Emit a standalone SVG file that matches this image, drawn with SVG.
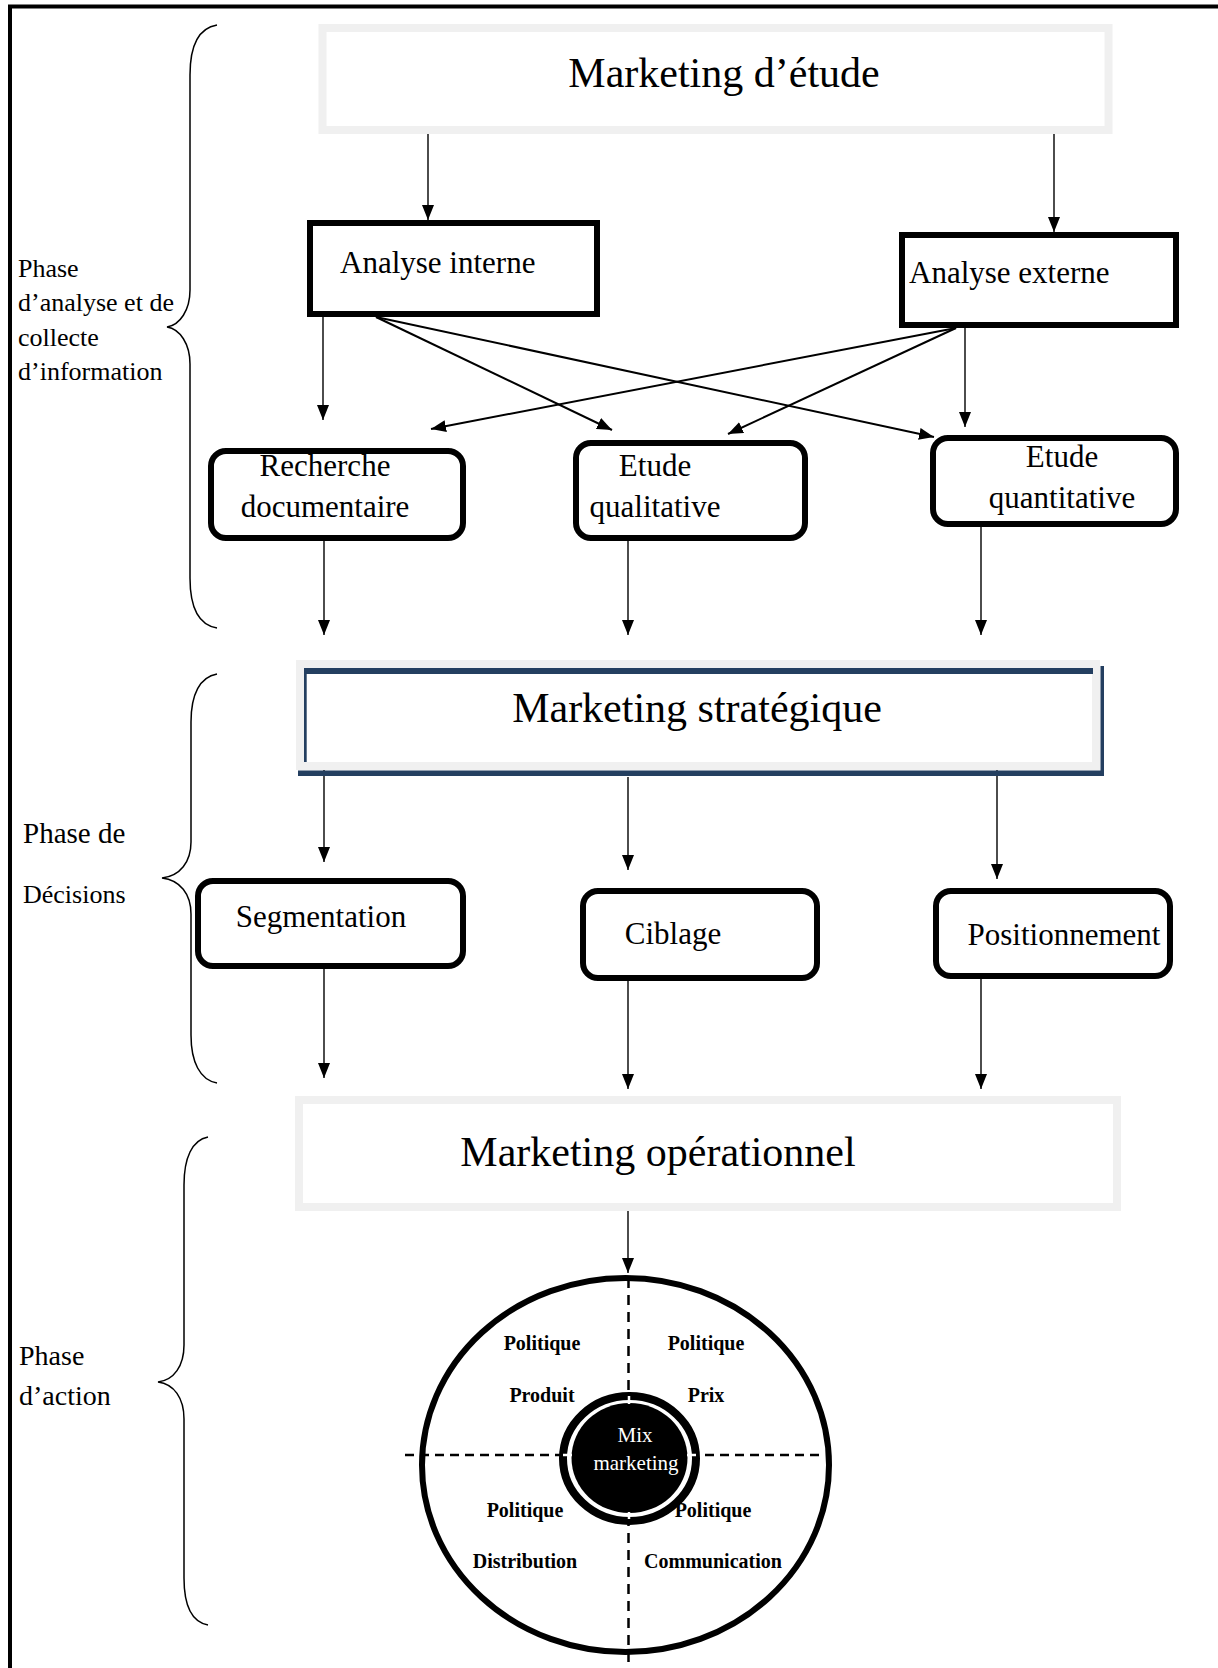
<svg xmlns="http://www.w3.org/2000/svg" width="1218" height="1668" viewBox="0 0 1218 1668">
<style>
text{font-family:"Liberation Serif","Times New Roman",serif;fill:#000}
.big{font-size:42px;text-anchor:middle}
.lbl{font-size:31px}
.mid{text-anchor:middle}
.side{font-size:26px}
.pol{font-size:20px;font-weight:bold;text-anchor:middle}
.mix{font-size:21px;fill:#fff;text-anchor:middle}
.gbox{fill:#fff;stroke:#f0f0f0;stroke-width:8}
.rbox{fill:#fff;stroke:#000;stroke-width:6}
.conn{stroke:#000;stroke-width:1.4;fill:none}
.diag{stroke:#000;stroke-width:2;fill:none}
.brace{stroke:#000;stroke-width:1.5;fill:none}
.dash{stroke:#000;stroke-width:2.5;fill:none}
</style>
<defs>
<marker id="ah" markerUnits="userSpaceOnUse" markerWidth="15" markerHeight="12" refX="15" refY="6" orient="auto">
<path d="M0,0 L15,6 L0,12 z" fill="#000"/>
</marker>
</defs>
<rect width="1218" height="1668" fill="#fff"/>
<path d="M10,1668 V6.5 H1218" fill="none" stroke="#000" stroke-width="4"/>

<g id="braces">
<path class="brace" d="M217,25 C199,28 190,45 190,75 L190,290 C190,310 180,325 167,327 C180,329 190,344 190,364 L190,578 C190,608 199,625 217,628"/>
<path class="brace" d="M217,674 C200,677 191,694 191,722 L191,842 C191,862 180,876 162,878 C180,880 191,894 191,914 L191,1035 C191,1062 200,1080 217,1083"/>
<path class="brace" d="M208,1137 C192,1140 184,1158 184,1185 L184,1345 C184,1366 174,1380 158,1382 C174,1384 184,1398 184,1419 L184,1578 C184,1605 192,1622 208,1625"/>
</g>

<g id="phase-labels">
<text class="side" x="18" y="277">Phase</text>
<text class="side" x="18" y="311">d’analyse et de</text>
<text class="side" x="18" y="346">collecte</text>
<text class="side" x="18" y="380">d’information</text>
<text x="23" y="843" style="font-size:29px">Phase de</text>
<text x="23" y="903" style="font-size:26px">Décisions</text>
<text x="19" y="1365" style="font-size:28px">Phase</text>
<text x="19" y="1405" style="font-size:28px">d’action</text>
</g>

<g id="connectors">
<line class="conn" x1="428" y1="130" x2="428" y2="220" marker-end="url(#ah)"/>
<line class="conn" x1="1054" y1="130" x2="1054" y2="232" marker-end="url(#ah)"/>
<line class="conn" x1="323" y1="317" x2="323" y2="420" marker-end="url(#ah)"/>
<line class="diag" x1="376" y1="317" x2="612" y2="430" marker-end="url(#ah)"/>
<line class="diag" x1="376" y1="317" x2="934" y2="437" marker-end="url(#ah)"/>
<line class="diag" x1="956" y1="328" x2="431" y2="429" marker-end="url(#ah)"/>
<line class="diag" x1="956" y1="328" x2="728" y2="434" marker-end="url(#ah)"/>
<line class="conn" x1="965" y1="328" x2="965" y2="427" marker-end="url(#ah)"/>
<line class="conn" x1="324" y1="541" x2="324" y2="635" marker-end="url(#ah)"/>
<line class="conn" x1="628" y1="541" x2="628" y2="635" marker-end="url(#ah)"/>
<line class="conn" x1="981" y1="527" x2="981" y2="635" marker-end="url(#ah)"/>
<line class="conn" x1="324" y1="766" x2="324" y2="862" marker-end="url(#ah)"/>
<line class="conn" x1="628" y1="777" x2="628" y2="870" marker-end="url(#ah)"/>
<line class="conn" x1="997" y1="766" x2="997" y2="879" marker-end="url(#ah)"/>
<line class="conn" x1="324" y1="969" x2="324" y2="1078" marker-end="url(#ah)"/>
<line class="conn" x1="628" y1="981" x2="628" y2="1089" marker-end="url(#ah)"/>
<line class="conn" x1="981" y1="979" x2="981" y2="1089" marker-end="url(#ah)"/>
<line class="conn" x1="628" y1="1207" x2="628" y2="1273" marker-end="url(#ah)"/>
</g>

<g id="marketing-etude">
<rect class="gbox" x="322.5" y="28" width="786" height="102"/>
<text class="big" x="724" y="87">Marketing d’étude</text>
</g>

<g id="analyse-interne">
<rect class="rbox" x="310" y="223" width="287" height="91"/>
<text class="lbl" x="340" y="273">Analyse interne</text>
</g>

<g id="analyse-externe">
<rect class="rbox" x="902" y="235" width="274" height="90"/>
<text class="lbl" x="909" y="283">Analyse externe</text>
</g>

<g id="recherche-documentaire">
<rect class="rbox" x="211" y="451" width="252" height="87" rx="15"/>
<text class="lbl mid" x="325" y="476">Recherche</text>
<text class="lbl mid" x="325" y="517">documentaire</text>
</g>

<g id="etude-qualitative">
<rect class="rbox" x="576" y="443" width="229" height="95" rx="15"/>
<text class="lbl mid" x="655" y="476">Etude</text>
<text class="lbl mid" x="655" y="517">qualitative</text>
</g>

<g id="etude-quantitative">
<rect class="rbox" x="933" y="438" width="243" height="86" rx="15"/>
<text class="lbl mid" x="1062" y="467">Etude</text>
<text class="lbl mid" x="1062" y="508">quantitative</text>
</g>

<g id="marketing-strategique">
<rect class="gbox" x="300" y="664" width="796" height="102"/>
<rect x="304" y="668" width="789" height="6" fill="#243f60"/>
<rect x="304" y="670" width="2.7" height="92" fill="#243f60"/>
<rect x="298" y="770.5" width="806" height="5.5" fill="#243f60"/>
<rect x="1100.5" y="666" width="3.5" height="110" fill="#243f60"/>
<text class="big" x="697" y="722">Marketing stratégique</text>
</g>

<g id="segmentation">
<rect class="rbox" x="198" y="881" width="265" height="85" rx="15"/>
<text class="lbl mid" x="321" y="927">Segmentation</text>
</g>

<g id="ciblage">
<rect class="rbox" x="583" y="891" width="234" height="87" rx="15"/>
<text class="lbl mid" x="673" y="944">Ciblage</text>
</g>

<g id="positionnement">
<rect class="rbox" x="936" y="891" width="234" height="85" rx="15"/>
<text class="lbl mid" x="1064" y="945">Positionnement</text>
</g>

<g id="marketing-operationnel">
<rect class="gbox" x="299" y="1100" width="818" height="107"/>
<text class="big" x="658" y="1166">Marketing opérationnel</text>
</g>

<g id="mix-marketing">
<ellipse cx="625.5" cy="1465" rx="203.5" ry="187" fill="#fff" stroke="#000" stroke-width="6"/>
<line class="dash" x1="628.5" y1="1278" x2="628.5" y2="1668" stroke-dasharray="10 7"/>
<line class="dash" x1="405" y1="1455" x2="824" y2="1455" stroke-dasharray="9 6"/>
<ellipse cx="629.5" cy="1458.5" rx="66.5" ry="62.5" fill="#fff" stroke="#000" stroke-width="8"/>
<ellipse cx="629.5" cy="1458" rx="58" ry="55" fill="#000"/>
<g stroke="#fff" stroke-width="2.5">
<line x1="629" y1="1396" x2="629" y2="1404"/>
<line x1="629" y1="1512" x2="629" y2="1519"/>
<line x1="563" y1="1455" x2="572" y2="1455"/>
<line x1="687" y1="1455" x2="696" y2="1455"/>
</g>
<text class="mix" x="635" y="1442">Mix</text>
<text class="mix" x="636" y="1470">marketing</text>
<text class="pol" x="542" y="1350">Politique</text>
<text class="pol" x="542" y="1402">Produit</text>
<text class="pol" x="706" y="1350">Politique</text>
<text class="pol" x="706" y="1402">Prix</text>
<text class="pol" x="525" y="1517">Politique</text>
<text class="pol" x="525" y="1568">Distribution</text>
<text class="pol" x="713" y="1517">Politique</text>
<text class="pol" x="713" y="1568">Communication</text>
</g>
</svg>
